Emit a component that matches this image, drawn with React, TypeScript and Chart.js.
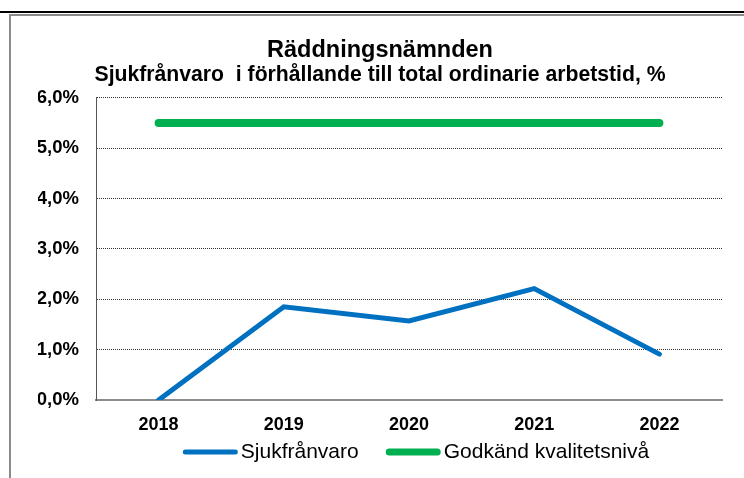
import React, { useEffect, useRef } from "react";
import { Chart, registerables } from "chart.js";

Chart.register(...registerables);

const years = ["2018", "2019", "2020", "2021", "2022"];
const sickLeave = [0.0, 1.85, 1.57, 2.21, 0.91];
const approvedLevel = [5.5, 5.5, 5.5, 5.5, 5.5];
const seriesNames = ["Sjukfrånvaro", "Godkänd kvalitetsnivå"];
const titleText = "Räddningsnämnden";
const subtitleText = "Sjukfrånvaro  i förhållande till total ordinarie arbetstid, %";

const FONT = "'Liberation Sans', Arial, sans-serif";

const framePlugin = {
  id: "frame",
  beforeDraw(chart: any) {
    const ctx = chart.ctx;
    const w = chart.width;
    const h = chart.height;
    ctx.save();
    ctx.fillStyle = "#ffffff";
    ctx.fillRect(0, 0, w, h);
    ctx.fillStyle = "#000000";
    ctx.fillRect(0, 11, w, 2);
    ctx.fillStyle = "#8a8a8a";
    ctx.fillRect(9, 14, w - 9, 2);
    ctx.fillRect(9, 14, 2, h - 14);
    ctx.restore();
  },
};

const legendPlugin = {
  id: "customLegend",
  afterDraw(chart: any) {
    const ctx = chart.ctx;
    ctx.save();
    ctx.font = `21px ${FONT}`;
    ctx.textBaseline = "middle";
    ctx.textAlign = "left";
    const y = 452;
    const sampleW = 55;
    const gapText = 3;
    const gapItems = 27;
    const items = chart.data.datasets.map((d: any) => ({
      label: d.label,
      color: d.borderColor,
      lw: d.legendLineWidth || 5,
      tw: ctx.measureText(d.label).width,
    }));
    const total =
      items.reduce((s: number, it: any) => s + sampleW + gapText + it.tw, 0) +
      gapItems * (items.length - 1);
    let x = 416 - total / 2;
    for (const it of items) {
      ctx.strokeStyle = it.color;
      ctx.lineWidth = it.lw;
      ctx.lineCap = "round";
      ctx.beginPath();
      ctx.moveTo(x + it.lw / 2, y);
      ctx.lineTo(x + sampleW - it.lw / 2, y);
      ctx.stroke();
      x += sampleW + gapText;
      ctx.fillStyle = "#000000";
      ctx.fillText(it.label, x, y);
      x += it.tw + gapItems;
    }
    ctx.restore();
  },
};

export default function App() {
  const ref = useRef<HTMLCanvasElement | null>(null);

  useEffect(() => {
    document.body.style.margin = "0";
    const canvas = ref.current;
    if (!canvas) return;
    const chart = new Chart(canvas, {
      type: "line",
      data: {
        labels: years,
        datasets: [
          {
            label: seriesNames[0],
            data: sickLeave,
            borderColor: "#0070C0",
            backgroundColor: "#0070C0",
            borderWidth: 5,
            borderCapStyle: "round",
            borderJoinStyle: "miter",
            pointRadius: 0,
            fill: false,
            tension: 0,
            legendLineWidth: 5,
          } as any,
          {
            label: seriesNames[1],
            data: approvedLevel,
            borderColor: "#00B050",
            backgroundColor: "#00B050",
            borderWidth: 8,
            borderCapStyle: "round",
            pointRadius: 0,
            fill: false,
            tension: 0,
            legendLineWidth: 7,
          } as any,
        ],
      },
      options: {
        animation: false,
        responsive: false,
        maintainAspectRatio: false,
        layout: { padding: { left: 38, right: 22, top: 0, bottom: 0 } },
        plugins: {
          legend: { display: false },
          tooltip: { enabled: false },
          title: {
            display: true,
            text: titleText,
            color: "#000000",
            font: { family: FONT, size: 23.5, weight: "bold", lineHeight: 1 },
            padding: { top: 39, bottom: 0 },
          },
          subtitle: {
            display: true,
            text: subtitleText,
            color: "#000000",
            font: { family: FONT, size: 21.2, weight: "bold", lineHeight: 1 },
            padding: { top: 2, bottom: 12 },
          },
        },
        scales: {
          x: {
            type: "category",
            offset: true,
            grid: { display: false, drawTicks: false },
            border: { display: true, color: "#8c8c8c", width: 2 },
            ticks: {
              color: "#000000",
              font: { family: FONT, size: 18, weight: "bold" },
              padding: 14,
              maxRotation: 0,
            },
            afterFit(scale: any) {
              scale.height = 78;
            },
          },
          y: {
            min: 0,
            max: 6,
            grid: { color: "#333333", lineWidth: 1, drawTicks: false },
            border: { display: true, color: "#555555", width: 1, dash: [1, 1] },
            ticks: {
              stepSize: 1,
              color: "#000000",
              font: { family: FONT, size: 18.5, weight: "bold" },
              padding: 17,
              callback: (v: any) => Number(v).toFixed(1).replace(".", ",") + "%",
            },
            afterFit(scale: any) {
              scale.width = 58;
            },
          },
        },
      },
      plugins: [framePlugin, legendPlugin],
    });
    return () => chart.destroy();
  }, []);

  return (
    <div style={{ width: 744, height: 478 }}>
      <canvas ref={ref} width={744} height={478} style={{ display: "block" }} />
    </div>
  );
}
